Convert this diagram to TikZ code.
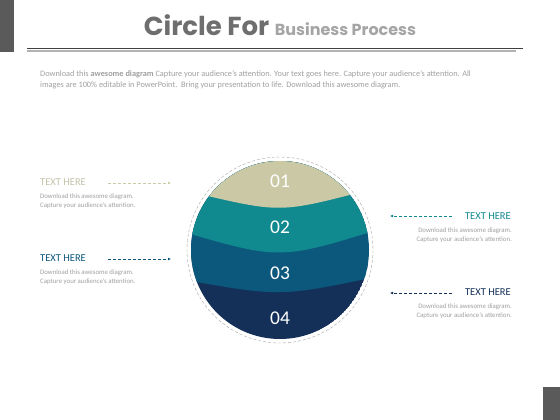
\documentclass[tikz,border=0pt]{standalone}
\usepackage{fontspec}
\setmainfont{Carlito}
\newfontfamily\titlefont{Poppins}
\usetikzlibrary{arrows.meta}
\definecolor{cbeige}{RGB}{203,200,166}
\definecolor{cteal}{RGB}{16,137,143}
\definecolor{cblue}{RGB}{12,88,125}
\definecolor{cnavy}{RGB}{20,48,88}
\definecolor{cdark}{RGB}{90,90,90}
\definecolor{ctitle}{RGB}{110,110,110}
\definecolor{csub}{RGB}{165,165,165}
\definecolor{cbody}{RGB}{160,160,160}
\tikzset{
  head/.style={font=\fontsize{10.5}{12}\selectfont, inner sep=0pt},
  desc/.style={font=\fontsize{6.8}{9.5}\selectfont, text=cbody, inner sep=0pt, align=left},
  descr/.style={desc, align=right},
  num/.style={font=\fontsize{19.5}{20}\selectfont, text=white, inner sep=0pt},
  link/.style={densely dashed, line width=0.6pt, -{Latex[length=3pt,width=3pt]}},
}
\begin{document}
\begin{tikzpicture}[x=1pt,y=-1pt]
\useasboundingbox (0,0) rectangle (560,420);
\fill[white] (0,0) rectangle (560,420);
% corner bars
\fill[cdark] (0,0) rectangle (14,52);
\fill[cdark] (543,387) rectangle (560,420);
% title
\node[anchor=base, inner sep=0pt] (title) at (280,36) {\titlefont\fontsize{26}{28}\selectfont\bfseries\textcolor{ctitle}{Circle For} {\fontsize{16}{18}\selectfont\textcolor{csub}{Business Process}}};
\draw[line width=1pt, black!75] (27,48.5) -- (523,48.5);
\draw[line width=1.2pt, black!30] (27,51) -- (516,51);
% paragraph
\node[desc, anchor=north west, font=\fontsize{8.3}{10.5}\selectfont] (para) at (40,70.5) {Download this \textbf{awesome diagram} Capture your audience's attention. Your text goes here. Capture your audience's attention. All\\images are 100\% editable in PowerPoint.\ \ Bring your presentation to life. Download this awesome diagram.};
% circle
\coordinate (c) at (280,250);
\draw[densely dashed, line width=0.4pt, black!35] (c) circle (93);
\begin{scope}
\clip (c) circle (89);
\fill[cnavy] (c) circle (89);
\fill[cblue] (180,279) .. controls (280,297) .. (380,276) -- (380,150) -- (180,150) -- cycle;
\fill[cteal] (180,231) .. controls (280,260) .. (380,229) -- (380,150) -- (180,150) -- cycle;
\fill[cbeige] (195,193) .. controls (280,213) .. (365,191) -- (380,150) -- (180,150) -- cycle;
\end{scope}
\node[num] (n1) at (280,181) {01};
\node[num] (n2) at (280,227) {02};
\node[num] (n3) at (280,273) {03};
\node[num] (n4) at (280,318) {04};
% left labels
\node[head, anchor=west, text=cbeige!90!black!80] (t1) at (40,182) {TEXT HERE};
\node[desc, anchor=north west] (d1) at (40,193.5) {Download this awesome diagram.\\Capture your audience's attention.};
\node[head, anchor=west, text=cblue] (t2) at (40,258) {TEXT HERE};
\node[desc, anchor=north west] (d2) at (40,269.5) {Download this awesome diagram.\\Capture your audience's attention.};
% right labels
\node[head, anchor=east, text=cteal] (t3) at (511,216) {TEXT HERE};
\node[descr, anchor=north east] (d3) at (512,227.5) {Download this awesome diagram.\\Capture your audience's attention.};
\node[head, anchor=east, text=cnavy] (t4) at (511,292) {TEXT HERE};
\node[descr, anchor=north east] (d4) at (512,303.5) {Download this awesome diagram.\\Capture your audience's attention.};
% connectors
\coordinate (a1s) at (108,183); \coordinate (a1e) at (171,183);
\coordinate (a2s) at (108,259); \coordinate (a2e) at (171,259);
\coordinate (a3s) at (452,216); \coordinate (a3e) at (390,216);
\coordinate (a4s) at (452,293); \coordinate (a4e) at (390,293);
\draw[link, cbeige] (a1s) -- (a1e);
\draw[link, cblue] (a2s) -- (a2e);
\draw[link, cteal] (a3s) -- (a3e);
\draw[link, cnavy] (a4s) -- (a4e);
\end{tikzpicture}
\end{document}
